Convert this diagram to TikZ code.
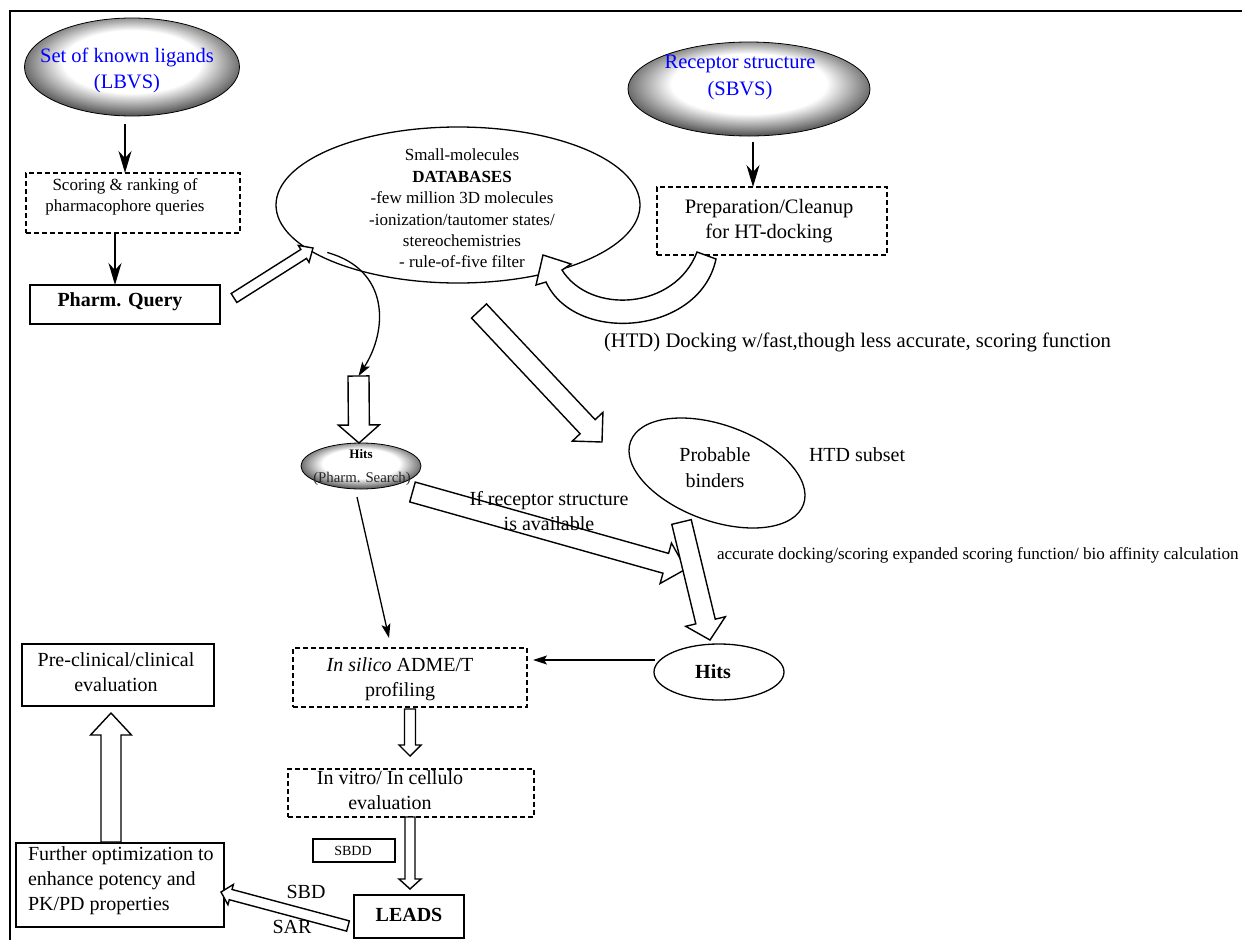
\documentclass[tikz,border=0pt]{standalone}
\usepackage{fontspec}
\setmainfont{Liberation Serif}
\usetikzlibrary{arrows.meta,calc,shapes.geometric}
\pgfdeclareradialshading{glossy}{\pgfpoint{0bp}{4bp}}{color(0bp)=(white); color(16bp)=(white); color(24bp)=(black!50); color(29bp)=(black!83); color(33bp)=(black); color(50bp)=(black)}
\newcommand\setfs[2]{\fontsize{#1}{#2}\selectfont}
\tikzset{harrowline/.style={draw=black, fill=white, line width=1.4pt, line join=miter}}
\newcommand\harrow[5]{%
  \draw[harrowline] let \p1=(#1), \p2=(#2),
    \n1={atan2(\y2-\y1,\x2-\x1)}, \n2={veclen(\x2-\x1,\y2-\y1)-#5} in
    ($(\p1)+(\n1+90:#3pt)$) -- ($(\p1)+(\n1:\n2)+(\n1+90:#3pt)$) --
    ($(\p1)+(\n1:\n2)+(\n1+90:#4pt)$) -- (\p2) --
    ($(\p1)+(\n1:\n2)+(\n1-90:#4pt)$) -- ($(\p1)+(\n1:\n2)+(\n1-90:#3pt)$) --
    ($(\p1)+(\n1-90:#3pt)$) -- cycle;}
\begin{document}
\begin{tikzpicture}[x=1pt,y=-1pt,
  every node/.style={inner sep=0pt,outer sep=0pt},
  glossyell/.style={ellipse, draw=black, line width=0.8pt, shade, shading=glossy},
  plainell/.style={ellipse, draw=black, line width=1.3pt},
  sbox/.style={rectangle, draw=black, line width=1.4pt},
  dbox/.style={rectangle, draw=black, line width=1.3pt, dash pattern=on 5pt off 3pt},
  tline/.style={draw=black, line width=1.3pt},
  tarrow/.style={tline, -{Stealth[length=22pt,width=13pt,inset=7pt]}},
  sarrow/.style={tline, -{Stealth[length=14pt,width=9pt,inset=3pt]}},
  big/.style={font=\setfs{20}{25}, align=center},
  mid/.style={font=\setfs{17}{21.4}, align=center}]
\useasboundingbox (0,0) rectangle (1242,940);
\fill[white] (0,0) rectangle (1242,940);
% frame
\draw[line width=2.2pt] (10,940) -- (10,11) -- (1242,11);

% ---- shapes ----
\node[glossyell, minimum width=215, minimum height=98] (lbvs) at (132,67) {};
\node[glossyell, minimum width=242, minimum height=94] (sbvs) at (749,89) {};
\node[dbox, minimum width=214, minimum height=60] (score) at (133,203) {};
\node[sbox, minimum width=190, minimum height=39] (pq) at (125,304.5) {};
\node[plainell, minimum width=364, minimum height=156] (db) at (458,205) {};
\node[dbox, minimum width=230, minimum height=68] (prep) at (772,221) {};
\node[glossyell, minimum width=120, minimum height=46] (hitsl) at (361,466) {};
\node[plainell, rotate=-20, minimum width=184, minimum height=96] (pb) at (717,473) {};
\node[plainell, minimum width=130, minimum height=56] (hitsr) at (719,672) {};
\node[dbox, minimum width=234, minimum height=59] (insilico) at (410,677.5) {};
\node[dbox, minimum width=246, minimum height=48] (invitro) at (411,793) {};
\node[sbox, line width=1.2pt, minimum width=82, minimum height=23] (sbdd) at (354,850.5) {};
\node[sbox, minimum width=110, minimum height=43] (leads) at (409,916.5) {};
\node[sbox, minimum width=192, minimum height=62] (preclin) at (118,675) {};
\node[sbox, minimum width=208, minimum height=84] (furth) at (120,885) {};

% ---- thin connectors ----
\draw[tarrow] ([shift={(-7,8)}]lbvs.south) -- ([xshift=-8pt]score.north);
\draw[tarrow] ([xshift=-18pt]score.south) -- ([xshift=-10pt]pq.north);
\draw[tarrow] ([shift={(4,6)}]sbvs.south) -- ([xshift=-19pt]prep.north);

% ---- hollow arrows ----
\coordinate (a1s) at (234,298); \coordinate (a1e) at (313,248);
\harrow{a1s}{a1e}{5.3}{10}{11}
\coordinate (a2s) at (479,311); \coordinate (a2e) at (602,442);
\harrow{a2s}{a2e}{10.3}{21}{21}
\coordinate (a3s) at (358.5,376); \coordinate (a3e) at (359,443);
\harrow{a3s}{a3e}{10.5}{20.5}{18}
\coordinate (a4s) at (412.5,492); \coordinate (a4e) at (686,569);
\harrow{a4s}{a4e}{10.3}{21}{21}
\coordinate (a5s) at (681.5,522); \coordinate (a5e) at (710,640);
\harrow{a5s}{a5e}{10}{20.4}{19}
\coordinate (a6s) at (410,709); \coordinate (a6e) at (410,756);
\harrow{a6s}{a6e}{5.5}{11}{11}
\coordinate (a7s) at (410,817); \coordinate (a7e) at (410,889);
\harrow{a7s}{a7e}{5}{11}{10}
\coordinate (a8s) at (348,926); \coordinate (a8e) at (221,892);
\harrow{a8s}{a8e}{5.3}{10.5}{10}
\coordinate (a9s) at (111,842); \coordinate (a9e) at (111,713);
\harrow{a9s}{a9e}{10}{20.5}{22}

% curved hollow arrow prep -> db
\draw[harrowline] (697,252) .. controls (675,310) and (590,315) .. (562,270)
  -- (571,264) -- (543,255) -- (536,285) -- (546,282)
  .. controls (575,345) and (700,335) .. (716,259) -- cycle;

% curved thin arrow db -> hits
\draw[sarrow] ([shift={(8,-3)}]db.200) .. controls (390,270) and (388,330) .. (a3s);

\draw[sarrow] ([shift={(-4,8)}]hitsl.south) -- ([shift={(-21,-10)}]insilico.north);
\draw[sarrow] ([shift={(1,-12)}]hitsr.west) -- ([shift={(6,-17.5)}]insilico.east);

% ---- texts ----
\node[font=\setfs{20.5}{26}, align=center, text=blue] at (127,70) {Set of known ligands\\(LBVS)};
\node[font=\setfs{20.5}{27}, align=center, text=blue] at (740,77) {Receptor structure\\(SBVS)};
\node[mid, font=\setfs{17}{21}] at (125,197) {Scoring \& ranking of\\pharmacophore queries};
\node[big] at (120,302) {\textbf{Pharm. Query}};
\node[mid] at (462,208.5) {Small-molecules\\\textbf{DATABASES}\\-few million 3D molecules\\-ionization/tautomer states/\\stereochemistries\\- rule-of-five filter};
\node[big, font=\setfs{20.5}{25}] at (769,221) {Preparation/Cleanup\\for HT-docking};
\node[big, font=\setfs{20.7}{25}, anchor=west] (htd) at (604,342) {(HTD) Docking w/fast,though less accurate, scoring function};
\node[font=\setfs{13}{15}] at (361,454) {\textbf{Hits}};
\node[font=\setfs{14.8}{16}, text=black!85] at (362,479) {(Pharm. Search)};
\node[big, font=\setfs{20}{26}] at (715,468) {Probable\\binders};
\node[big, anchor=west] at (809,455) {HTD subset};
\node[big] at (549,511) {If receptor structure\\is available};
\node[font=\setfs{17.1}{19}, anchor=west] at (717,555) {accurate docking/scoring expanded scoring function/ bio affinity calculation};
\node[big] at (713,672) {\textbf{Hits}};
\node[big] at (400,679) {\textit{In silico} ADME/T\\profiling};
\node[big] at (390,790) {In vitro/ In cellulo\\evaluation};
\node[font=\setfs{14}{16}] at (353,851) {SBDD};
\node[big] at (409,915) {\textbf{LEADS}};
\node[big] at (306,892) {SBD};
\node[big] at (292,927) {SAR};
\node[big] at (116,672) {Pre-clinical/clinical\\evaluation};
\node[big, align=left, anchor=west] at (28,881) {Further optimization to\\enhance potency and\\PK/PD properties};
\end{tikzpicture}
\end{document}
